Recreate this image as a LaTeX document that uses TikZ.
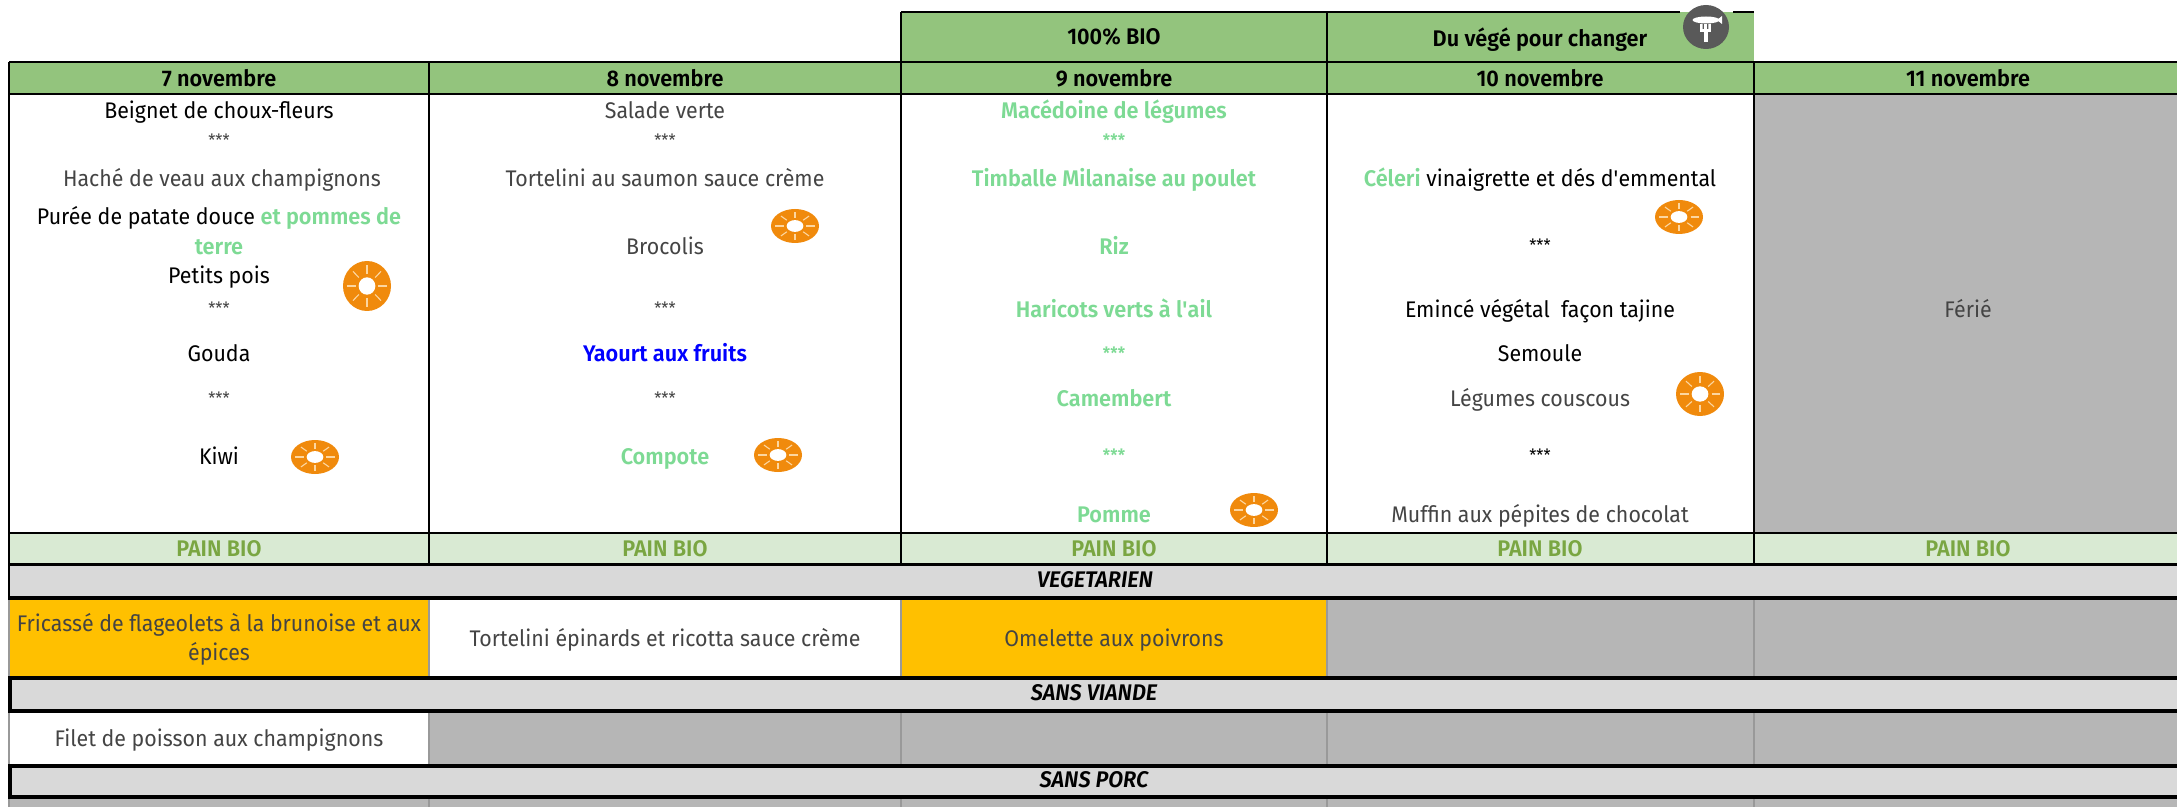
\documentclass[tikz,border=0pt]{standalone}
\usepackage{fontspec}
\setmainfont[FakeStretch=0.945,BoldFont={Fira Sans SemiBold},BoldFeatures={FakeStretch=0.96},BoldItalicFont={Fira Sans SemiBold Italic},BoldItalicFeatures={FakeStretch=0.96}]{Fira Sans}
\definecolor{hdr}{RGB}{147,196,125}
\definecolor{pain}{RGB}{217,234,211}
\definecolor{paintxt}{RGB}{122,166,66}
\definecolor{bio}{RGB}{125,218,148}
\definecolor{greytxt}{RGB}{68,68,68}
\definecolor{off}{RGB}{182,182,182}
\definecolor{band}{RGB}{217,217,217}
\definecolor{amber}{RGB}{255,192,0}
\definecolor{sunor}{RGB}{240,138,12}
\definecolor{sunray}{RGB}{252,214,160}
\definecolor{iconbg}{RGB}{89,89,89}
\newcommand{\sunicon}[4]{%
  \begin{scope}[shift={(#1,#2)},xscale=#3/23,yscale=#4/23]
    \fill[sunor] (0,0) circle[radius=23];
    \foreach \a in {0,45,...,315}
      \draw[sunray,line width=0.55pt] (\a:11) -- (\a:19);
    \fill[white] (0,0) circle[radius=8];
  \end{scope}}
\tikzset{
  tx/.style={inner sep=0pt,yshift=-0.7pt,text height=8pt,text depth=2pt,font=\fontsize{11.3}{12}\selectfont},
  plain/.style={tx,text=black},
  soft/.style={tx,text=greytxt},
  green/.style={tx,text=bio,font=\fontsize{11.3}{12}\selectfont\bfseries},
  head/.style={tx,text=black,font=\fontsize{11.3}{12}\selectfont\bfseries},
  painlbl/.style={tx,text=paintxt,font=\fontsize{11.3}{12}\selectfont\bfseries},
  bandlbl/.style={tx,text=black,font=\fontsize{11.3}{12}\selectfont\bfseries\itshape},
  stars/.style={inner sep=0pt,yshift=-1.8pt,text height=8pt,text depth=2pt,font=\fontsize{8.5}{10}\selectfont},
  rule/.style={line width=#1,black},
  rule/.default=1pt,
  softrule/.style={line width=0.8pt,black!40}
}
\begin{document}
\begin{tikzpicture}[x=0.5pt,y=-0.5pt]
\useasboundingbox (0,0) rectangle (2177,807);
% fills
\fill[hdr] (901,12) rectangle (1754,62);
\fill[hdr] (9,62) rectangle (2177,94);
\fill[off] (1754,94) rectangle (2177,533);
\fill[pain] (9,533) rectangle (2177,564);
\fill[band] (9,564) rectangle (2177,597);
\fill[amber] (9,599) rectangle (429,677);
\fill[amber] (901,599) rectangle (1327,677);
\fill[off] (1327,599) rectangle (2177,677);
\fill[band] (9,678) rectangle (2177,710);
\fill[off] (429,711) rectangle (2177,765);
\fill[band] (9,766) rectangle (2177,797);
\fill[off] (9,798) rectangle (2177,807);
% thin soft rules in the lower rows
\foreach \x in {429,901,1327,1754} \draw[softrule] (\x,599) -- (\x,677);
\foreach \x in {429,901,1327,1754} \draw[softrule] (\x,711) -- (\x,765);
\foreach \x in {429,901,1327,1754} \draw[softrule] (\x,798) -- (\x,807);
\draw[softrule] (9,599) -- (9,807);
% header rules
\draw[rule=1pt] (901,12) -- (1680,12) (1733,12) -- (1754,12);
\draw[rule=1pt] (901,12) -- (901,62) (1327,12) -- (1327,62);
\draw[rule=1pt] (9,62) -- (2177,62);
\draw[rule=1.2pt] (9,94) -- (2177,94);
\draw[rule=1.1pt] (9,533) -- (2177,533);
\draw[rule=1.1pt] (9,564.5) -- (2177,564.5);
\foreach \x in {9,429,901,1327,1754} \draw[rule=0.9pt] (\x,62) -- (\x,564.5);
% band rules
\draw[rule=2pt] (8,598) -- (2177,598);
\draw[rule=1.1pt] (9,564) -- (9,599);
\draw[rule=2pt] (8,678) -- (2177,678);
\draw[rule=2pt] (8,711) -- (2177,711);
\draw[rule=2pt] (9.5,678) -- (9.5,711);
\draw[rule=2pt] (8,766) -- (2177,766);
\draw[rule=2pt] (8,797) -- (2177,797);
\draw[rule=2pt] (9.5,766) -- (9.5,797);
% icon
\fill[iconbg] (1706,27) ellipse[x radius=23,y radius=22];
\fill[white] (1706,20) ellipse[x radius=13.5,y radius=3.5];
\fill[white] (1717,20) -- (1722,16) -- (1722,24) -- cycle;
\fill[white] (1703.5,30) rectangle (1708,42);
\fill[white] (1700,24) rectangle (1711,32);
\fill[iconbg] (1702.6,24) rectangle (1703.8,29) (1707.2,24) rectangle (1708.4,29);
% headers
\node[head] (bio) at (1114,37) {100\% BIO};
\node[head] (vege) at (1540,39) {Du végé pour changer};
\node[head] (d7) at (219,79) {7 novembre};
\node[head] (d8) at (665,79) {8 novembre};
\node[head] (d9) at (1114,79) {9 novembre};
\node[head] (d10) at (1540,79) {10 novembre};
\node[head] (d11) at (1968,79) {11 novembre};
% column 1
\node[plain] (a1) at (219,111) {Beignet de choux-fleurs};
\node[stars,text=greytxt] (a2) at (219,137) {***};
\node[soft] (a3) at (222,179) {Haché de veau aux champignons};
\node[plain] (a4) at (219,217) {Purée de patate douce \textcolor{bio}{\bfseries et pommes de}};
\node[green] (a5) at (219,247) {terre};
\node[plain] (a6) at (219,276) {Petits pois};
\node[stars,text=greytxt] (a7) at (219,305) {***};
\node[plain] (a8) at (219,354) {Gouda};
\node[stars,text=greytxt] (a9) at (219,395) {***};
\node[plain] (a10) at (219,457) {Kiwi};
% column 2
\node[soft] (b1) at (665,111) {Salade verte};
\node[stars,text=greytxt] (b2) at (665,137) {***};
\node[soft] (b3) at (665,179) {Tortelini au saumon sauce crème};
\node[soft] (b4) at (665,247) {Brocolis};
\node[stars,text=greytxt] (b5) at (665,305) {***};
\node[tx,text=blue,font=\fontsize{11.3}{12}\selectfont\bfseries] (b6) at (665,354) {Yaourt aux fruits};
\node[stars,text=greytxt] (b7) at (665,395) {***};
\node[green] (b8) at (665,457) {Compote};
% column 3
\node[green] (c1) at (1114,111) {Macédoine de légumes};
\node[stars,text=bio,font=\fontsize{8.5}{10}\selectfont\bfseries] (c2) at (1114,137) {***};
\node[green] (c3) at (1114,179) {Timballe Milanaise au poulet};
\node[green] (c4) at (1114,247) {Riz};
\node[green] (c5) at (1114,310) {Haricots verts à l\textquotesingle ail};
\node[stars,text=bio,font=\fontsize{8.5}{10}\selectfont\bfseries] (c6) at (1114,350) {***};
\node[green] (c7) at (1114,399) {Camembert};
\node[stars,text=bio,font=\fontsize{8.5}{10}\selectfont\bfseries] (c8) at (1114,452) {***};
\node[green] (c9) at (1114,515) {Pomme};
% column 4
\node[plain] (e1) at (1540,179) {\textcolor{bio}{\bfseries Céleri} vinaigrette et dés d\textquotesingle emmental};
\node[stars] (e2) at (1540,242) {***};
\node[plain] (e3) at (1540,310) {Emincé végétal\ \ façon tajine};
\node[plain] (e4) at (1540,354) {Semoule};
\node[soft] (e5) at (1540,399) {Légumes couscous};
\node[stars] (e6) at (1540,452) {***};
\node[soft] (e7) at (1540,515) {Muffin aux pépites de chocolat};
% column 5
\node[soft] (f1) at (1968,310) {Férié};
% pain
\node[painlbl] (p1) at (219,549) {PAIN BIO};
\node[painlbl] (p2) at (665,549) {PAIN BIO};
\node[painlbl] (p3) at (1114,549) {PAIN BIO};
\node[painlbl] (p4) at (1540,549) {PAIN BIO};
\node[painlbl] (p5) at (1968,549) {PAIN BIO};
% bands
\node[bandlbl] (v0) at (1095,580) {VEGETARIEN};
\node[bandlbl] (s0) at (1094,693) {SANS VIANDE};
\node[bandlbl] (r0) at (1094,780) {SANS PORC};
% alternatives
\node[soft] (v1) at (219,624) {Fricassé de flageolets à la brunoise et aux};
\node[soft] (v2) at (219,653) {épices};
\node[soft] (v3) at (665,639) {Tortelini épinards et ricotta sauce crème};
\node[soft] (v4) at (1114,639) {Omelette aux poivrons};
\node[soft] (s1) at (219,739) {Filet de poisson aux champignons};
% suns
\sunicon{367}{286}{24}{25}
\sunicon{795}{226}{24}{17}
\sunicon{315}{457}{24}{17}
\sunicon{778}{455}{24}{17}
\sunicon{1254}{510}{24}{17}
\sunicon{1679}{217}{24}{17}
\sunicon{1700}{394}{24}{22}
\end{tikzpicture}
\end{document}
